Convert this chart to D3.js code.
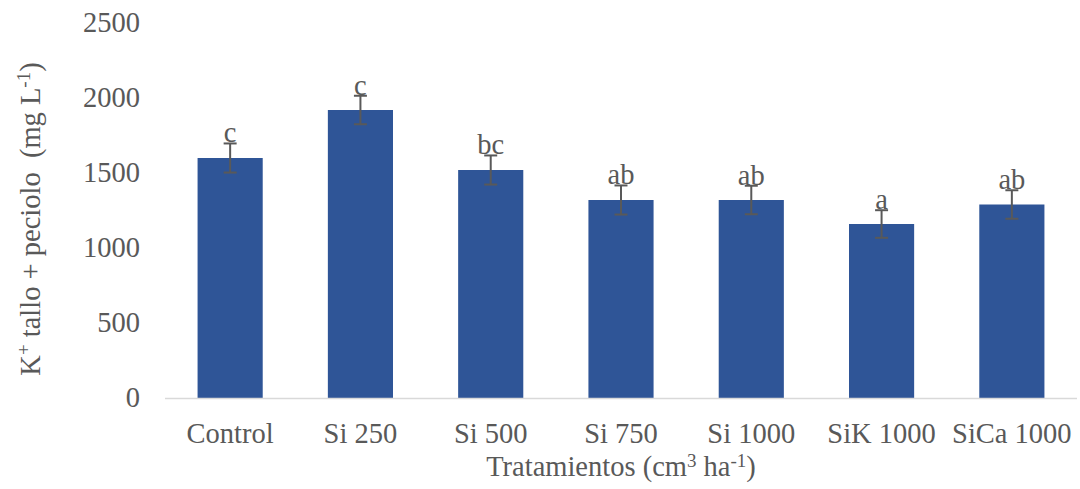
<!DOCTYPE html>
<html>
<head>
<meta charset="utf-8">
<script src="https://cdn.jsdelivr.net/npm/d3@7"></script>
<style>
  body { margin: 0; background: #fff; }
</style>
</head>
<body>
<svg id="chart" width="1080" height="489"></svg>
<script>
// data
const tratamientos = ["Control", "Si 250", "Si 500", "Si 750", "Si 1000", "SiK 1000", "SiCa 1000"];
const potasio = [1600, 1920, 1520, 1320, 1320, 1160, 1290];
const errores = [97, 95, 97, 97, 95, 92, 95];
const letras = ["c", "c", "bc", "ab", "ab", "a", "ab"];
const yTicks = [0, 500, 1000, 1500, 2000, 2500];

const svg = d3.select("#chart")
    .attr("font-family", "'Times New Roman', 'Liberation Serif', Tinos, 'DejaVu Serif', serif");
const fontSize = 28.5;
const ink = "#595959";

const x = d3.scaleBand()
    .domain(tratamientos)
    .range([165, 1077])
    .paddingInner(0.5)
    .paddingOuter(0.25);

const y = d3.scaleLinear()
    .domain([0, 2500])
    .range([398, 23]);

// y tick labels (no axis line in the original)
svg.append("g")
    .selectAll("text")
    .data(yTicks)
    .join("text")
    .attr("x", 140)
    .attr("y", d => y(d))
    .attr("dy", "0.33em")
    .attr("text-anchor", "end")
    .attr("font-size", fontSize)
    .attr("fill", ink)
    .text(d => d);

// bars
svg.append("g")
    .selectAll("rect")
    .data(tratamientos)
    .join("rect")
    .attr("x", d => x(d))
    .attr("width", x.bandwidth())
    .attr("y", (d, i) => y(potasio[i]))
    .attr("height", (d, i) => y(0) - y(potasio[i]))
    .attr("fill", "#2F5597");

// baseline
svg.append("line")
    .attr("x1", 165).attr("x2", 1077)
    .attr("y1", y(0) + 0.5).attr("y2", y(0) + 0.5)
    .attr("stroke", "#d9d9d9")
    .attr("stroke-width", 1.5);

// significance letters
svg.append("g")
    .selectAll("text")
    .data(tratamientos)
    .join("text")
    .attr("x", d => x(d) + x.bandwidth() / 2)
    .attr("y", (d, i) => y(potasio[i] + errores[i]) - 1)
    .attr("text-anchor", "middle")
    .attr("font-size", fontSize)
    .attr("fill", ink)
    .text((d, i) => letras[i]);

// error bars
const err = svg.append("g")
    .attr("stroke", ink)
    .attr("stroke-width", 2);

tratamientos.forEach((d, i) => {
    const cx = x(d) + x.bandwidth() / 2;
    const top = y(potasio[i] + errores[i]);
    const bot = y(potasio[i] - errores[i]);
    err.append("line").attr("x1", cx).attr("x2", cx).attr("y1", top).attr("y2", bot);
    err.append("line").attr("x1", cx - 6.5).attr("x2", cx + 6.5).attr("y1", top).attr("y2", top);
    err.append("line").attr("x1", cx - 6.5).attr("x2", cx + 6.5).attr("y1", bot).attr("y2", bot);
});

// x category labels
svg.append("g")
    .selectAll("text")
    .data(tratamientos)
    .join("text")
    .attr("x", d => x(d) + x.bandwidth() / 2)
    .attr("y", 443)
    .attr("text-anchor", "middle")
    .attr("font-size", fontSize)
    .attr("fill", ink)
    .text(d => d);

// x title
const xt = svg.append("text")
    .attr("x", 621)
    .attr("y", 476)
    .attr("text-anchor", "middle")
    .attr("font-size", fontSize)
    .attr("fill", ink);
xt.append("tspan").text("Tratamientos (cm");
xt.append("tspan").attr("font-size", 19).attr("dy", -9).text("3");
xt.append("tspan").attr("dy", 9).text(" ha");
xt.append("tspan").attr("font-size", 19).attr("dy", -9).text("-1");
xt.append("tspan").attr("dy", 9).text(")");

// y title
const yt = svg.append("text")
    .attr("transform", "translate(40,219) rotate(-90)")
    .attr("text-anchor", "middle")
    .attr("font-size", fontSize)
    .attr("fill", ink);
yt.append("tspan").text("K");
yt.append("tspan").attr("font-size", 19).attr("dy", -10).text("+");
yt.append("tspan").attr("dy", 10).text(" tallo + peciolo\u00a0 (mg L");
yt.append("tspan").attr("font-size", 19).attr("dy", -10).text("-1");
yt.append("tspan").attr("dy", 10).text(")");
</script>
</body>
</html>
